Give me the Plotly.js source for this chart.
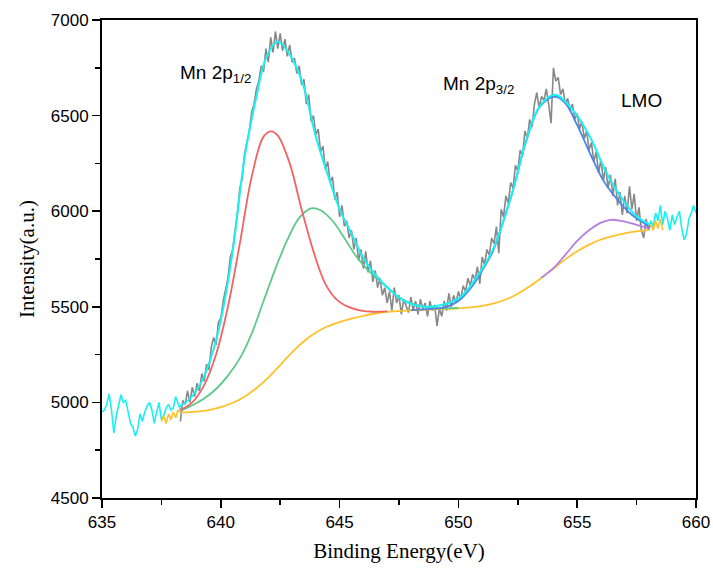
<!DOCTYPE html>
<html>
<head>
<meta charset="utf-8">
<script src="https://cdn.plot.ly/plotly-3.0.1.min.js"></script>
<style>html,body{margin:0;padding:0;background:#fff;}#chart{width:713px;height:575px;}</style>
</head>
<body>
<div id="chart"></div>
<script>
// ---- Raw spectrum outside fit region (cyan) ----
const rawLeftE = [635.0,635.1,635.2,635.3,635.4,635.5,635.6,635.7,635.8,635.9,636.0,636.1,636.2,636.3,636.4,636.5,636.6,636.7,636.8,636.9,637.0,637.1,637.2,637.3,637.4,637.5,637.6,637.7,637.8,637.9,638.0,638.1,638.2,638.3];
const rawLeftI = [4950,4960,4990,5045,4960,4840,4930,4990,5040,5000,5010,4950,4890,4870,4825,4860,4940,4900,4950,4980,5000,4960,4890,4950,5000,4910,4930,4970,4990,4960,4970,5030,4990,4960];
const rawRightE = [658.0,658.1,658.2,658.3,658.4,658.5,658.6,658.7,658.8,658.9,659.0,659.1,659.2,659.3,659.4,659.5,659.6,659.7,659.8,659.9,660.0];
const rawRightI = [5900,5950,5920,5990,5950,6030,5930,6000,5960,5900,5980,5930,5970,6000,5910,5850,5880,5960,5990,6030,5990];

// ---- Raw spectrum inside fit region (gray), 638.3 to 658.0 step 0.1 ----
const rawFitStart = 638.3, rawFitStep = 0.1;
const rawFitI = [
4900,5010,4990,5060,5000,5080,5030,5100,5060,5150,
5110,5200,5170,5290,5340,5300,5420,5440,5530,5600,
5650,5760,5800,5900,5990,6120,6170,6300,6360,6420,
6520,6560,6640,6680,6760,6730,6850,6780,6910,6830,
6940,6850,6930,6840,6900,6810,6870,6780,6800,6720,
6760,6660,6690,6560,6610,6470,6500,6400,6430,6310,
6340,6220,6260,6150,6180,6060,6100,5970,6030,5920,
5950,5860,5900,5800,5860,5740,5800,5700,5790,5680,
5740,5630,5690,5600,5650,5560,5600,5520,5580,5480,
5600,5520,5560,5460,5540,5500,5470,5550,5480,5530,
5460,5540,5490,5520,5450,5530,5480,5510,5400,5490,
5450,5530,5480,5570,5500,5560,5520,5580,5540,5610,
5580,5650,5610,5670,5640,5710,5620,5760,5720,5800,
5770,5860,5830,5920,5780,6010,5970,6080,6040,6150,
6120,6240,6210,6320,6290,6420,6380,6480,6440,6560,
6620,6540,6600,6580,6640,6560,6460,6750,6680,6700,
6610,6640,6560,6590,6530,6560,6480,6510,6430,6470,
6380,6420,6320,6360,6260,6310,6200,6270,6160,6230,
6120,6190,6080,6170,6030,6100,5980,6080,5990,6130,
6010,6090,5950,6020,5900,5860,5960,5900
];
const rawFitE = rawFitI.map((_, i) => +(rawFitStart + i * rawFitStep).toFixed(1));

// ---- Background (Shirley) ----
const bgNoisyLeftE = [637.5,637.6,637.7,637.8,637.9,638.0,638.1,638.2,638.3];
const bgNoisyLeftI = [4900,4930,4890,4940,4910,4950,4920,4960,4946];
const bgNoisyRightE = [658.0,658.1,658.2,658.3,658.4,658.5,658.6];
const bgNoisyRightI = [5902,5930,5900,5950,5910,5960,5900];
const bgE = [638.3,639.0,639.5,640.0,640.5,641.0,641.5,642.0,642.5,643.0,643.5,644.0,644.5,645.0,645.5,646.0,646.5,647.0,648.0,649.0,650.0,650.5,651.0,651.5,652.0,652.5,653.0,653.5,654.0,654.5,655.0,655.5,656.0,656.5,657.0,657.5,658.0];
const bgI = [4946,4952,4960,4975,4998,5030,5075,5130,5195,5262,5320,5365,5398,5420,5438,5453,5465,5473,5481,5487,5492,5497,5505,5518,5538,5568,5607,5652,5700,5748,5790,5825,5852,5870,5884,5894,5902];

// ---- Fitted components (peak + background) ----
const redE = [638.3,638.8,639.3,639.8,640.3,640.8,641.3,641.8,642.12,642.4,642.9,643.4,643.9,644.4,644.9,645.4,645.9,646.4,647.0];
const redI = [4960,5000,5090,5250,5500,5830,6180,6390,6417,6395,6250,6010,5790,5620,5535,5498,5480,5474,5476];
const greenE = [638.3,638.8,639.3,639.8,640.3,640.8,641.3,641.8,642.3,642.8,643.3,643.8,644.2,644.7,645.2,645.7,646.2,646.7,647.2,647.7,648.2,648.7,649.2,649.7,650.0];
const greenI = [4955,4985,5020,5070,5140,5230,5360,5530,5700,5850,5965,6015,6005,5950,5860,5764,5690,5635,5580,5535,5510,5497,5492,5493,5494];
const blueE = [648.0,649.0,649.5,650.0,650.6,651.0,651.45,652.0,652.3,652.86,653.42,654.06,654.5,655.0,655.66,656.1,656.5,657.2,657.9,658.06];
const blueI = [5483,5490,5500,5530,5610,5690,5790,5990,6110,6370,6545,6600,6565,6450,6270,6160,6090,5992,5929,5915];
const purpleE = [653.5,654.0,654.5,655.0,655.5,656.0,656.4,656.9,657.4,657.9,658.06];
const purpleI = [5652,5702,5772,5845,5900,5940,5955,5948,5932,5915,5910];
const envE = [638.26,638.7,639.2,639.6,640.0,640.5,641.0,641.5,641.9,642.4,642.9,643.44,644.0,644.57,645.0,645.42,646.12,647.1,647.8,648.5,649.34,650.05,650.6,651.45,652.3,652.86,653.42,654.06,654.8,655.53,656.23,656.92,657.5,658.06];
const envI = [4978,5020,5110,5240,5430,5790,6280,6600,6800,6888,6820,6671,6390,6165,6010,5903,5731,5590,5525,5502,5511,5548,5626,5799,6112,6374,6548,6609,6531,6391,6201,6060,5973,5929];

// ---- Labels ----
const xTickVals = [635,640,645,650,655,660];
const yTickVals = [4500,5000,5500,6000,6500,7000];
const peakLabels = ['Mn 2p<sub>1/2</sub>', 'Mn 2p<sub>3/2</sub>', 'LMO'];

const C = {cyan:'#19F0F5', gray:'#888888', red:'#F26464', green:'#5CC98A', blue:'#4A86E8', purple:'#B57FE0', yellow:'#FFC12A'};
function tr(x, y, color, w, shape){
  return {x:x, y:y, type:'scatter', mode:'lines', line:{color:color, width:w, shape:shape||'linear', smoothing:1}, hoverinfo:'skip', showlegend:false};
}
const traces = [
  tr(rawLeftE, rawLeftI, C.cyan, 1.6),
  tr(rawRightE, rawRightI, C.cyan, 1.6),
  tr(bgNoisyLeftE, bgNoisyLeftI, C.yellow, 1.6),
  tr(bgNoisyRightE, bgNoisyRightI, C.yellow, 1.6),
  tr(rawFitE, rawFitI, C.gray, 1.6),
  tr(bgE, bgI, C.yellow, 1.8, 'spline'),
  tr(greenE, greenI, C.green, 1.8, 'spline'),
  tr(redE, redI, C.red, 1.8, 'spline'),
  tr(purpleE, purpleI, C.purple, 1.8, 'spline'),
  tr(blueE, blueI, C.blue, 1.8, 'spline'),
  tr(envE, envI, C.cyan, 2, 'spline')
];

const tickFont = {family:'Liberation Sans, Arial, sans-serif', size:17, color:'#000'};
const titleFont = {family:'Liberation Serif, Times New Roman, serif', size:21, color:'#000'};
const annFont = {family:'Liberation Sans, Arial, sans-serif', size:19, color:'#000'};
const layout = {
  width:713, height:575,
  margin:{l:102, r:17, t:20, b:77},
  paper_bgcolor:'#fff', plot_bgcolor:'#fff',
  showlegend:false,
  xaxis:{range:[635,660], tickvals:xTickVals, ticktext:xTickVals.map(String), ticks:'outside', ticklen:8, tickwidth:1.5, tickcolor:'#000',
    minor:{dtick:2.5, ticks:'outside', ticklen:5, tickwidth:1.5, tickcolor:'#000', showgrid:false},
    showline:true, linecolor:'#000', linewidth:2, mirror:true, showgrid:false, zeroline:false,
    tickfont:tickFont, title:{text:'Binding Energy(eV)', font:titleFont, standoff:12}},
  yaxis:{range:[4500,7000], tickvals:yTickVals, ticktext:yTickVals.map(String), ticks:'outside', ticklen:8, tickwidth:1.5, tickcolor:'#000',
    minor:{dtick:250, ticks:'outside', ticklen:5, tickwidth:1.5, tickcolor:'#000', showgrid:false},
    showline:true, linecolor:'#000', linewidth:2, mirror:true, showgrid:false, zeroline:false,
    tickfont:tickFont, title:{text:'Intensity(a.u.)', font:titleFont, standoff:10}},
  annotations:[
    {x:638.2, y:6720, xref:'x', yref:'y', text:peakLabels[0], showarrow:false, xanchor:'left', yanchor:'middle', font:annFont},
    {x:649.28, y:6660, xref:'x', yref:'y', text:peakLabels[1], showarrow:false, xanchor:'left', yanchor:'middle', font:annFont},
    {x:656.75, y:6580, xref:'x', yref:'y', text:peakLabels[2], showarrow:false, xanchor:'left', yanchor:'middle', font:annFont}
  ]
};
Plotly.newPlot('chart', traces, layout, {displayModeBar:false, staticPlot:true});
</script>
</body>
</html>
